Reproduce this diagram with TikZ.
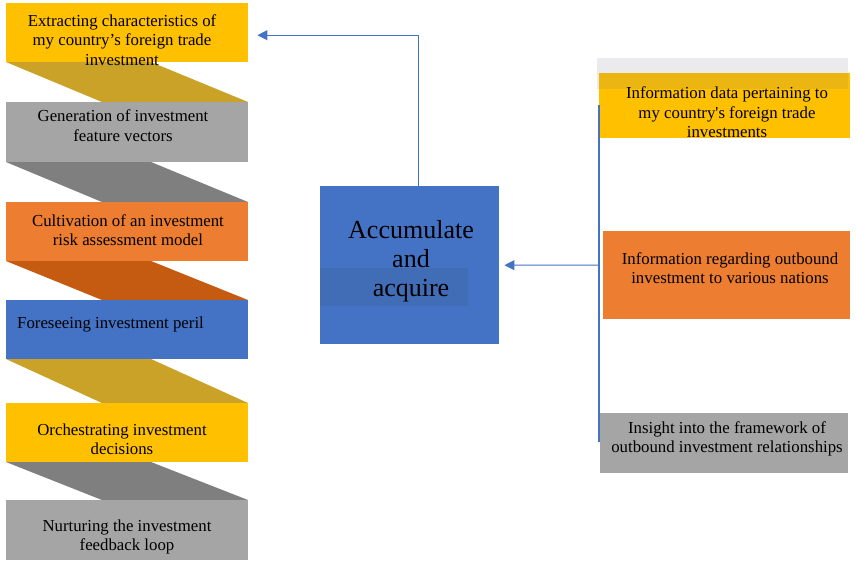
\documentclass[tikz,border=0pt]{standalone}
\usepackage{fontspec}
\setmainfont{Liberation Serif}
\usetikzlibrary{arrows.meta}
\definecolor{gold}{HTML}{FFC000}
\definecolor{dgold}{HTML}{C9A227}
\definecolor{midgray}{HTML}{A5A5A5}
\definecolor{dgray}{HTML}{7F7F7F}
\definecolor{orange}{HTML}{ED7D31}
\definecolor{dorange}{HTML}{C55A11}
\definecolor{blue}{HTML}{4472C4}
\definecolor{dblue}{HTML}{416CB6}
\definecolor{pale}{HTML}{EBEBEE}
\definecolor{overlap}{HTML}{EBB512}
\tikzset{
    stepbox/.style = {rectangle,
                    inner sep=0pt,
                    minimum width=242pt,
                    minimum height=59pt,
                    anchor=north west},
    infobox/.style = {rectangle,
                    inner sep=0pt,
                    anchor=north west},
    txt/.style =    {align=center,
                    inner sep=0pt,
                    text=black,
                    font=\fontsize{16.8}{19.5}\selectfont},
    bigtxt/.style = {align=center,
                    inner sep=0pt,
                    text=black,
                    font=\fontsize{26}{29}\selectfont},
    link/.style =   {draw=blue,
                    line width=1pt,
                    -{Triangle[length=10pt,width=10pt]}},
}

\begin{document}
\begin{tikzpicture}[x=1pt,y=-1pt]
    \useasboundingbox (0,0) rectangle (856,566);

    \foreach \t/\b/\c in {62/102/dgold, 162/202/dgray, 261/300/dorange, 359/403/dgold, 462/500/dgray}
        \fill[\c] (6,\t) -- (151,\t) -- (248,\b) -- (102,\b) -- cycle;

    \node[stepbox, fill=gold]                       (S1) at (6,3)     {};
    \node[stepbox, fill=midgray, minimum height=60pt] (S2) at (6,102) {};
    \node[stepbox, fill=orange]                     (S3) at (6,202)   {};
    \node[stepbox, fill=blue]                       (S4) at (6,300)   {};
    \node[stepbox, fill=gold]                       (S5) at (6,403)   {};
    \node[stepbox, fill=midgray, minimum height=60pt] (S6) at (6,500) {};

    \node[txt] (S1t) at (122,40)  {Extracting characteristics of\\my country’s foreign trade\\investment};
    \node[txt] (S2t) at (123,125.5) {Generation of investment\\feature vectors};
    \node[txt] (S3t) at (128,230) {Cultivation of an investment\\risk assessment model};
    \node[txt, anchor=west] (S4t) at (17,324.5) {Foreseeing investment peril};
    \node[txt] (S5t) at (122,439) {Orchestrating investment\\decisions};
    \node[txt] (S6t) at (127,537) {Nurturing the investment\\feedback loop};

    \node[infobox, fill=blue, minimum width=179pt, minimum height=158pt] (acc) at (320,186) {};
    \fill[dblue] (320,268) rectangle (468,306);
    \node[bigtxt] (acct) at (411,261.5) {Accumulate\\and\\acquire};

    \fill[pale] (597,58) rectangle (848,89);
    \node[infobox, fill=gold, minimum width=251pt, minimum height=65pt] (I1) at (599,73) {};
    \fill[overlap] (599,73) rectangle (848,89);
    \node[infobox, fill=orange, minimum width=247pt, minimum height=88pt] (I2) at (603,231) {};
    \node[infobox, fill=midgray, minimum width=248pt, minimum height=60pt] (I3) at (600,413) {};

    \node[txt] (I1t) at (727,112.5) {Information data pertaining to\\my country\textquotesingle s foreign trade\\investments};
    \node[txt] (I2t) at (730,268)   {Information regarding outbound\\investment to various nations};
    \node[txt] (I3t) at (727,439)   {Insight into the framework of\\outbound investment relationships};

    \coordinate (bustop) at (599,105);
    \coordinate (busbot) at (599,442);
    \coordinate (busmid) at (599,265);
    \draw[blue, line width=1.5pt] (bustop) -- (busbot);
    \draw[link, shorten >=5pt] (busmid) -- (acc.east);
    \draw[link, shorten >=9pt] ([xshift=8.5pt]acc.north) |- ([yshift=-2.5pt]S1.east);
\end{tikzpicture}
\end{document}
